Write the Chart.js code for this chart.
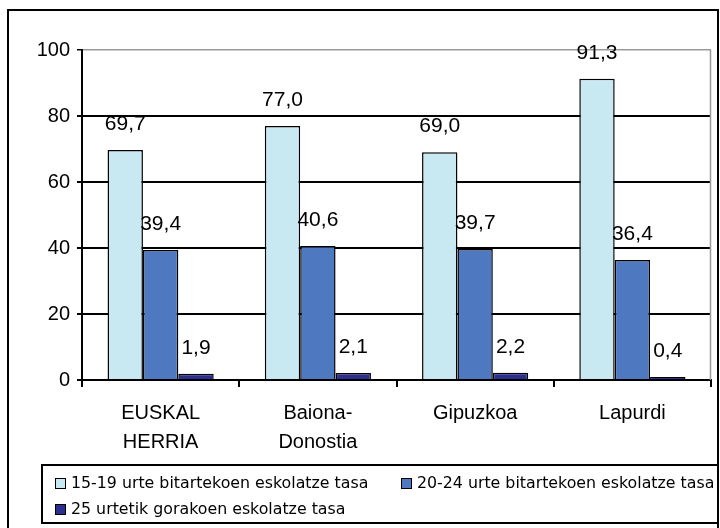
<!DOCTYPE html>
<html>
<head>
<meta charset="utf-8">
<script src="https://cdn.jsdelivr.net/npm/chart.js@4/dist/chart.umd.min.js"></script>
<style>
  body { margin: 0; background: #fff; }
  #wrap { position: relative; width: 720px; height: 528px; overflow: hidden; }
  #frame { position: absolute; left: 7px; top: 9px; width: 708px; height: 560px; border: 2px solid #000; }
  #chart { position: absolute; left: 0; top: 0; }
  #legend {
    position: absolute; left: 41px; top: 464px; width: 662px; height: 52px;
    border: 2px solid #000; padding: 4px 0 0 12px;
    font-family: 'DejaVu Sans', Verdana, sans-serif; font-size: 15.8px; color: #000;
    display: grid; grid-template-columns: 346px 300px; line-height: 25px;
  }
  .item { white-space: nowrap; }
  .sw { display: inline-block; width: 9px; height: 9px; border: 1.5px solid #000; margin-right: 5px; vertical-align: -1px; }
</style>
</head>
<body>
<div id="wrap">
  <div id="frame"></div>
  <canvas id="chart" width="720" height="528"></canvas>
  <div id="legend"></div>
</div>
<script>
const categories = [['EUSKAL', 'HERRIA'], ['Baiona-', 'Donostia'], 'Gipuzkoa', 'Lapurdi'];
const seriesNames = [
  '15-19 urte bitartekoen eskolatze tasa',
  '20-24 urte bitartekoen eskolatze tasa',
  '25 urtetik gorakoen eskolatze tasa'
];
const teens = [69.7, 77.0, 69.0, 91.3];
const twenties = [39.4, 40.6, 39.7, 36.4];
const over25 = [1.9, 2.1, 2.2, 0.4];
const yTicks = [0, 20, 40, 60, 80, 100];

const colors = ['#c9e9f2', '#4e78bf', '#2c2f8f'];
const labelFont = "'Liberation Sans', Arial, sans-serif";

// value labels above each bar, with a decimal comma
const valueLabels = {
  id: 'valueLabels',
  afterDatasetsDraw(chart) {
    const c = chart.ctx;
    c.save();
    c.font = '21px ' + labelFont;
    c.fillStyle = '#000';
    c.textAlign = 'center';
    c.textBaseline = 'middle';
    chart.data.datasets.forEach((ds, i) => {
      chart.getDatasetMeta(i).data.forEach((bar, j) => {
        c.fillText(ds.data[j].toFixed(1).replace('.', ','), bar.x, bar.y - 26);
      });
    });
    c.restore();
  }
};

// grey right edge of the plot area
const plotBorder = {
  id: 'plotBorder',
  beforeDatasetsDraw(chart) {
    const a = chart.chartArea;
    const c = chart.ctx;
    c.save();
    c.strokeStyle = '#999';
    c.lineWidth = 1.5;
    c.beginPath();
    c.moveTo(Math.round(a.right) - 0.5, a.top);
    c.lineTo(Math.round(a.right) - 0.5, a.bottom);
    c.stroke();
    c.restore();
  }
};

const chart = new Chart(document.getElementById('chart'), {
  type: 'bar',
  data: {
    labels: categories,
    datasets: [teens, twenties, over25].map((d, i) => ({
      label: seriesNames[i],
      data: d,
      backgroundColor: colors[i],
      borderColor: '#000',
      borderWidth: 1.5,
      minBarLength: 3,
      categoryPercentage: 0.675,
      barPercentage: 1
    }))
  },
  options: {
    responsive: false,
    animation: false,
    layout: { padding: { left: 10, right: 9, top: 50, bottom: 63 } },
    plugins: { legend: { display: false }, tooltip: { enabled: false } },
    scales: {
      x: {
        grid: { offset: true, drawOnChartArea: false, tickLength: 7, color: '#000', lineWidth: 2 },
        border: { color: '#000', width: 2 },
        ticks: { color: '#000', padding: 12, font: { family: labelFont, size: 20, lineHeight: 1.45 } },
        afterFit(s) { s.height = 85; }
      },
      y: {
        min: 0, max: 100,
        afterBuildTicks(s) { s.ticks = yTicks.map(v => ({ value: v })); },
        grid: {
          color: ctx => ctx.tick && ctx.tick.value === 100 ? '#999' : '#000',
          lineWidth: ctx => ctx.tick && ctx.tick.value === 100 ? 1.5 : 2,
          tickColor: '#000', tickLength: 5
        },
        border: { color: '#000', width: 2 },
        ticks: { color: '#000', padding: 7, font: { family: labelFont, size: 20 } },
        afterFit(s) { s.width = 72; }
      }
    }
  },
  plugins: [plotBorder, valueLabels]
});

const legend = document.getElementById('legend');
chart.data.datasets.forEach(ds => {
  const item = document.createElement('div');
  item.className = 'item';
  const sw = document.createElement('span');
  sw.className = 'sw';
  sw.style.background = ds.backgroundColor;
  item.appendChild(sw);
  item.appendChild(document.createTextNode(ds.label));
  legend.appendChild(item);
});
</script>
</body>
</html>
